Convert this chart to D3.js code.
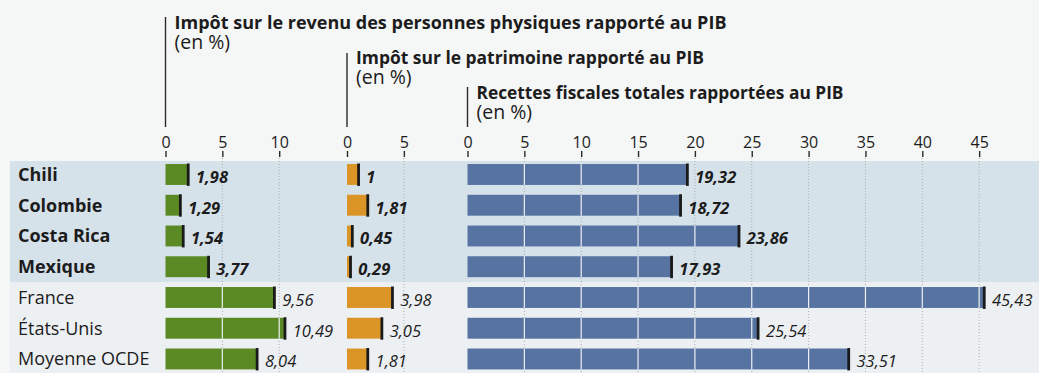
<!DOCTYPE html>
<html lang="fr">
<head>
<meta charset="utf-8">
<script src="https://cdn.jsdelivr.net/npm/d3@7"></script>
<style>
  html, body { margin: 0; padding: 0; background: #f5f6f6; }
  svg { display: block; }
  text { font-family: "Open Sans", "Noto Sans", sans-serif; fill: #1c1c1c; }
</style>
</head>
<body>
<svg id="chart" width="1039" height="373"></svg>
<script>
// Pays et groupes de pays
const countries = ["Chili", "Colombie", "Costa Rica", "Mexique", "France", "États-Unis", "Moyenne OCDE"];
// Pays mis en avant (en gras, fond bleuté)
const highlighted = ["Chili", "Colombie", "Costa Rica", "Mexique"];

// Impôt sur le revenu des personnes physiques, en % du PIB
const incomeTax = [1.98, 1.29, 1.54, 3.77, 9.56, 10.49, 8.04];
// Impôt sur le patrimoine, en % du PIB
const wealthTax = [1, 1.81, 0.45, 0.29, 3.98, 3.05, 1.81];
// Recettes fiscales totales, en % du PIB
const totalRevenue = [19.32, 18.72, 23.86, 17.93, 45.43, 25.54, 33.51];

// Graduations de chaque panneau
const incomeTicks = [0, 5, 10];
const wealthTicks = [0, 5];
const totalTicks = [0, 5, 10, 15, 20, 25, 30, 35, 40, 45];

// Étiquettes des valeurs (format français)
const incomeLabels = ["1,98", "1,29", "1,54", "3,77", "9,56", "10,49", "8,04"];
const wealthLabels = ["1", "1,81", "0,45", "0,29", "3,98", "3,05", "1,81"];
const totalLabels = ["19,32", "18,72", "23,86", "17,93", "45,43", "25,54", "33,51"];

const svg = d3.select("#chart");
const W = 1039, H = 373;
const unit = 11.37;

const y = d3.scaleBand().domain(countries).range([159.1, 374.35]).paddingInner(0.32).paddingOuter(0.16);

// Fonds des lignes
const bandTop = 161, bandSplit = 282;
svg.append("rect").attr("x", 10).attr("y", bandTop).attr("width", W - 10).attr("height", bandSplit - bandTop).attr("fill", "#d6e2ea");
svg.append("rect").attr("x", 10).attr("y", bandSplit).attr("width", W - 10).attr("height", H - bandSplit).attr("fill", "#ecf0f3");

const panels = [
  { title: "Impôt sur le revenu des personnes physiques rapporté au PIB", titleW: 552, x0: 165.5, ticks: incomeTicks, values: incomeTax, labels: incomeLabels, color: "#5b8a25", lineTop: 17, base: 29 },
  { title: "Impôt sur le patrimoine rapporté au PIB", titleW: 348, x0: 347, ticks: wealthTicks, values: wealthTax, labels: wealthLabels, color: "#db9526", lineTop: 53, base: 64 },
  { title: "Recettes fiscales totales rapportées au PIB", titleW: 367, x0: 467.5, ticks: totalTicks, values: totalRevenue, labels: totalLabels, color: "#5673a2", lineTop: 87, base: 99 }
];

panels.forEach(p => {
  const maxT = p.ticks[p.ticks.length - 1];
  const x = d3.scaleLinear().domain([0, maxT]).range([p.x0, p.x0 + maxT * unit]);
  const g = svg.append("g");

  // Titre et trait vertical
  g.append("line").attr("x1", p.x0).attr("x2", p.x0).attr("y1", p.lineTop).attr("y2", 127)
    .attr("stroke", "#2a2a2a").attr("stroke-width", 1.4);
  g.append("text").attr("x", p.x0 + 9).attr("y", p.base)
    .attr("font-size", 18.5).attr("font-weight", 700)
    .attr("textLength", p.titleW).attr("lengthAdjust", "spacingAndGlyphs")
    .text(p.title);
  g.append("text").attr("x", p.x0 + 9).attr("y", p.base + 19.5)
    .attr("font-size", 19.5).text("(en %)");

  // Axe supérieur
  const axis = d3.axisTop(x).tickValues(p.ticks).tickSize(0).tickPadding(1).tickFormat(d3.format("d"));
  const ax = g.append("g").attr("transform", "translate(0,149)").call(axis);
  ax.select(".domain").remove();
  ax.selectAll("text").attr("font-size", 16).attr("fill", "#1c1c1c")
    .style("font-family", "'Open Sans', sans-serif");
  ax.selectAll(".tick").append("line").attr("y1", 2).attr("y2", 8)
    .attr("stroke", "#2a2a2a").attr("stroke-width", 1.4);

  // Grille pointillée
  g.selectAll(".grid").data(p.ticks.filter(t => t > 0)).join("line")
    .attr("x1", d => x(d)).attr("x2", d => x(d)).attr("y1", 158).attr("y2", H)
    .attr("stroke", "#9aa0a4").attr("stroke-width", 0.8).attr("stroke-dasharray", "1,2");

  // Barres
  const rows = g.selectAll(".row").data(countries).join("g");
  rows.append("rect")
    .attr("x", x(0)).attr("y", d => y(d))
    .attr("width", (d, i) => x(p.values[i]) - x(0))
    .attr("height", y.bandwidth())
    .attr("fill", p.color);

  // Séparations blanches aux graduations
  countries.forEach((c, i) => {
    p.ticks.filter(t => t > 0 && t < p.values[i]).forEach(t => {
      g.append("line").attr("x1", x(t)).attr("x2", x(t))
        .attr("y1", y(c)).attr("y2", y(c) + y.bandwidth())
        .attr("stroke", "#eef1f2").attr("stroke-width", 1.2);
    });
  });

  // Trait noir en bout de barre
  rows.append("rect")
    .attr("x", (d, i) => x(p.values[i]) - 1.2)
    .attr("y", d => y(d) - 0.5)
    .attr("width", 2.8).attr("height", y.bandwidth() + 1.5)
    .attr("fill", "#1a1a1a");

  // Valeurs
  rows.append("text")
    .attr("x", (d, i) => x(p.values[i]) + 8)
    .attr("y", d => y(d) + y.bandwidth() - 2)
    .attr("font-size", 16.5).attr("font-style", "italic")
    .attr("font-weight", d => highlighted.includes(d) ? 700 : 400)
    .attr("fill", "#222")
    .text((d, i) => p.labels[i]);
});

// Noms des pays
svg.selectAll(".country").data(countries).join("text")
  .attr("x", 18).attr("y", d => y(d) + y.bandwidth() / 2 + 6.5)
  .attr("font-size", 18)
  .attr("font-weight", d => highlighted.includes(d) ? 700 : 400)
  .text(d => d);
</script>
</body>
</html>
